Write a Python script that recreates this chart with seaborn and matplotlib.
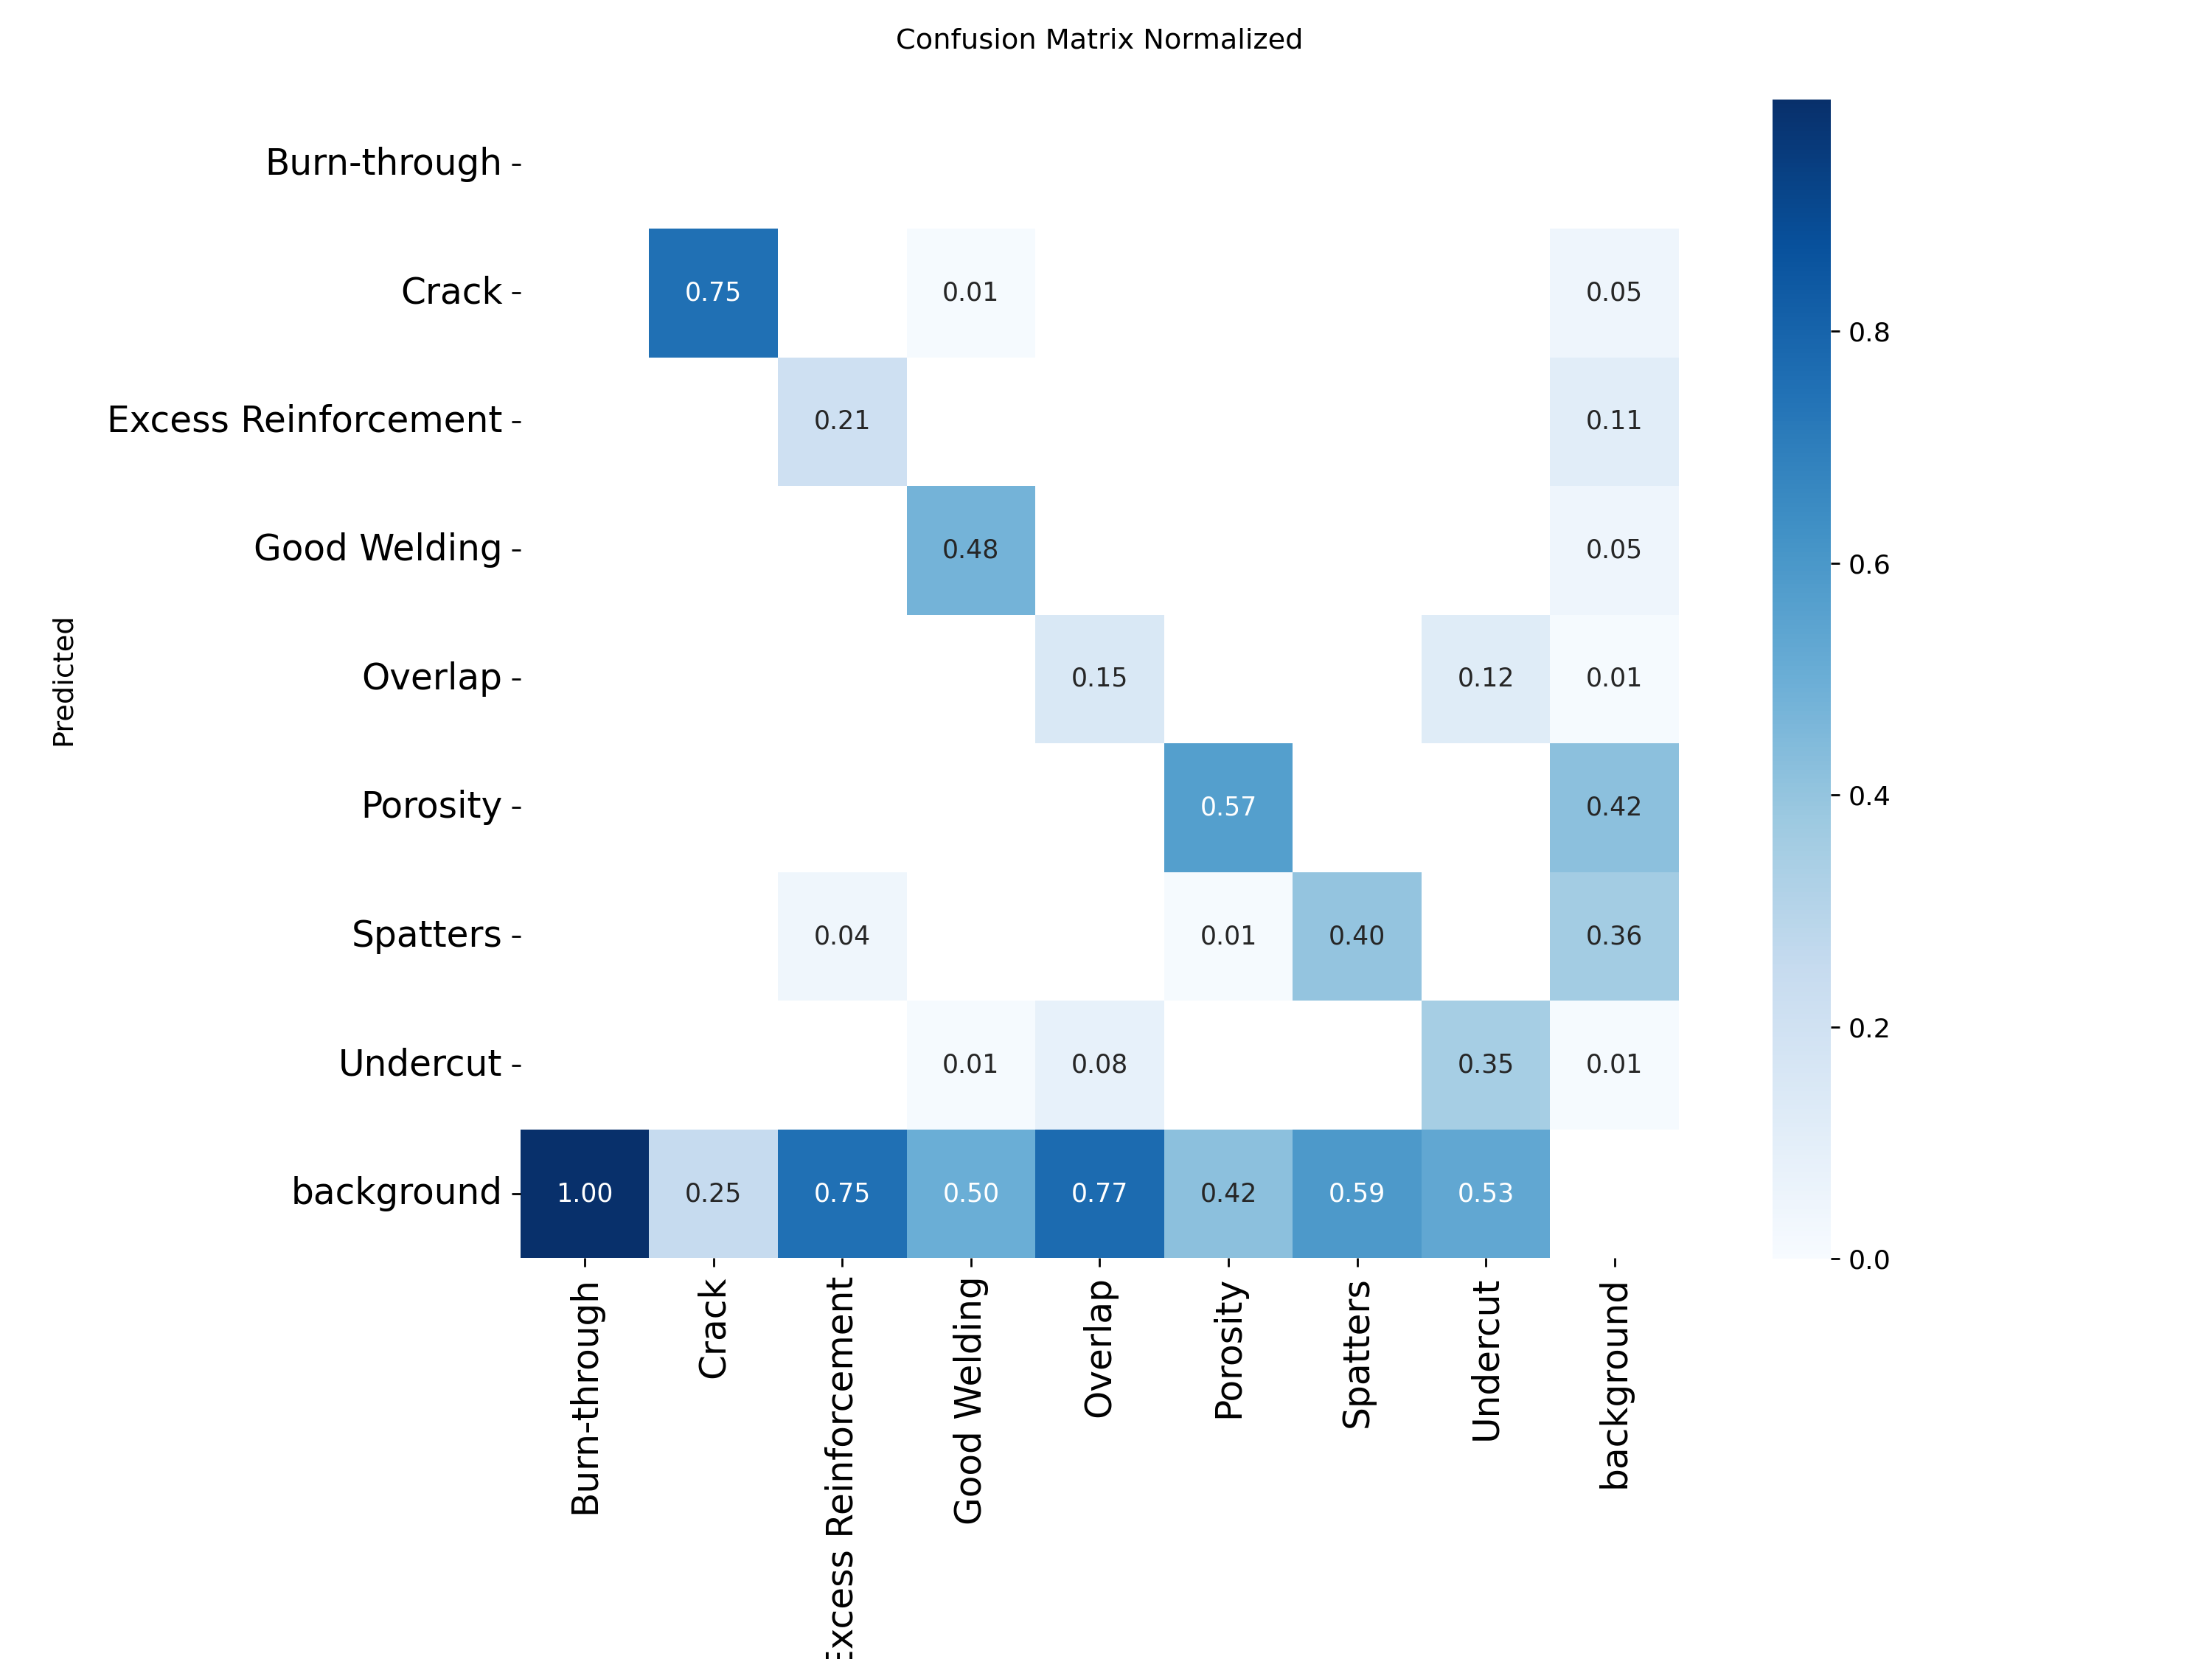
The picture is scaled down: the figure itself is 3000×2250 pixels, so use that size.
import numpy as np
import pandas as pd
import matplotlib
matplotlib.use("Agg")
import matplotlib.pyplot as plt
import seaborn as sns

nan = np.nan

# class names (rows = Predicted, columns = True)
classes = ["Burn-through", "Crack", "Excess Reinforcement", "Good Welding",
           "Overlap", "Porosity", "Spatters", "Undercut", "background"]

# normalized confusion matrix values, one list per predicted row (blank cells = nan)
row_burn_through = [nan, nan, nan, nan, nan, nan, nan, nan, nan]
row_crack = [nan, 0.75, nan, 0.01, nan, nan, nan, nan, 0.05]
row_excess = [nan, nan, 0.21, nan, nan, nan, nan, nan, 0.11]
row_good = [nan, nan, nan, 0.48, nan, nan, nan, nan, 0.05]
row_overlap = [nan, nan, nan, nan, 0.15, nan, nan, 0.12, 0.01]
row_porosity = [nan, nan, nan, nan, nan, 0.57, nan, nan, 0.42]
row_spatters = [nan, nan, 0.04, nan, nan, 0.01, 0.40, nan, 0.36]
row_undercut = [nan, nan, nan, 0.01, 0.08, nan, nan, 0.35, 0.01]
row_background = [1.00, 0.25, 0.75, 0.50, 0.77, 0.42, 0.59, 0.53, nan]

cbar_ticks = [0.0, 0.2, 0.4, 0.6, 0.8]

matrix = pd.DataFrame(
    [row_burn_through, row_crack, row_excess, row_good, row_overlap,
     row_porosity, row_spatters, row_undercut, row_background],
    index=classes, columns=classes,
)

plt.rcParams["font.family"] = ["DejaVu Sans"]

fig = plt.figure(figsize=(12, 9))
ax = fig.add_axes([0.2353, 0.2409, 0.5237, 0.6996])
cax = fig.add_axes([0.8013, 0.2413, 0.0263, 0.6987])

sns.heatmap(
    matrix,
    ax=ax,
    cbar_ax=cax,
    annot=True,
    annot_kws={"size": 10},
    cmap="Blues",
    fmt=".2f",
    square=True,
    vmin=0.0,
    cbar_kws={"ticks": cbar_ticks},
    xticklabels=classes,
    yticklabels=classes,
).set_facecolor((1, 1, 1))

ax.tick_params(axis="both", labelsize=14)
plt.setp(ax.get_xticklabels(), rotation=90)
plt.setp(ax.get_yticklabels(), rotation=0)
cax.tick_params(labelsize=10.5)

ax.set_xlabel("True", fontsize=11)
ax.set_ylabel("Predicted", fontsize=11, labelpad=12)
ax.set_title("Confusion Matrix Normalized", fontsize=11, pad=20)

fig.savefig("out.png", dpi=250)
plt.close(fig)
